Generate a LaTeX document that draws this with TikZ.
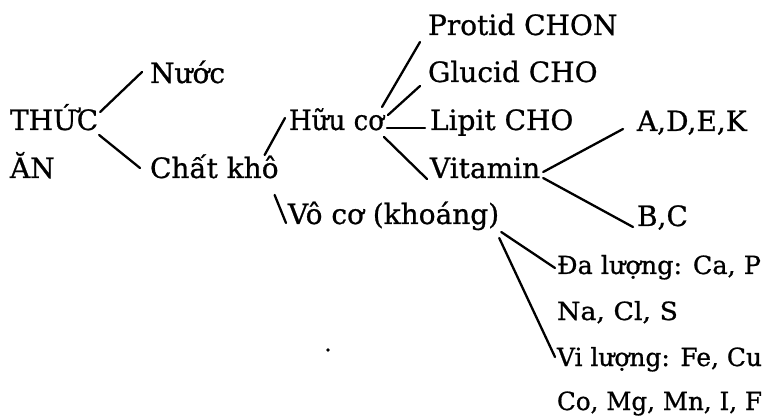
\documentclass[tikz,border=0pt]{standalone}
\usepackage{fontspec}
\setmainfont{DejaVu Serif}[FakeBold=0.8]
\newcommand\fitw[2]{\resizebox{#1pt}{\height}{#2}}
\begin{document}
\begin{tikzpicture}[x=1pt,y=-1pt,
  txt/.style={inner sep=0pt, outer sep=0pt, anchor=base west, font=\fontsize{28}{30}\selectfont},
  small/.style={txt, font=\fontsize{25}{27}\selectfont},
  link/.style={line width=2.3pt, line cap=round}]
\useasboundingbox (0,0) rectangle (765,419);
\node[txt] (thuc) at (10,130) {THỨC};
\node[txt] (an) at (10,178) {ĂN};
\node[txt] (nuoc) at (150,83) {Nước};
\node[txt] (chat) at (150,178) {Chất khô};
\node[txt] (huu) at (289,130) {\fitw{95}{Hữu cơ}};
\node[txt] (protid) at (428,35) {Protid CHON};
\node[txt] (glucid) at (428,82) {Glucid CHO};
\node[txt] (lipit) at (430,130) {Lipit CHO};
\node[txt] (vit) at (430,178) {Vitamin};
\node[txt] (adek) at (637,131) {A,D,E,K};
\node[txt] (bc) at (637,226) {B,C};
\node[txt] (voco) at (288,224) {Vô cơ (khoáng)};
\node[small] (dal) at (557,274) {\fitw{204}{Đa lượng: Ca, P}};
\node[small] (na) at (557,320) {\fitw{121}{Na, Cl, S}};
\node[small] (vil) at (557,366) {\fitw{205}{Vi lượng: Fe, Cu}};
\node[small] (co) at (557,410) {\fitw{205}{Co, Mg, Mn, I, F}};
\draw[link] ([shift={(2,-18)}]thuc.base east) -- ([shift={(-8,-11)}]nuoc.base west);
\draw[link] ([shift={(1,5)}]thuc.base east) -- ([shift={(-10,-10)}]chat.base west);
\draw[link] ([shift={(-14,-23)}]chat.base east) -- ([shift={(-4,-12)}]huu.base west);
\draw[link] ([shift={(-4,17)}]chat.base east) -- ([shift={(-2,-1)}]voco.base west);
\draw[link] ([shift={(-2,-23)}]huu.base east) -- ([shift={(-8,7)}]protid.base west);
\draw[link] ([shift={(4,-15)}]huu.base east) -- ([shift={(-8,4)}]glucid.base west);
\draw[link] ([shift={(3,-2)}]huu.base east) -- ([shift={(-5,-2)}]lipit.base west);
\draw[link] ([shift={(0,7)}]huu.base east) -- ([shift={(-3,1)}]vit.base west);
\draw[link] ([shift={(3,-6)}]vit.base east) -- ([shift={(-14,-2)}]adek.base west);
\draw[link] ([shift={(3,0)}]vit.base east) -- ([shift={(-4,1)}]bc.base west);
\draw[link] ([shift={(2,8)}]voco.base east) -- ([shift={(-2,-6)}]dal.base west);
\draw[link] ([shift={(0,14)}]voco.base east) -- ([shift={(-2,-9)}]vil.base west);
\fill (328,350) circle (1.8);
\end{tikzpicture}
\end{document}
